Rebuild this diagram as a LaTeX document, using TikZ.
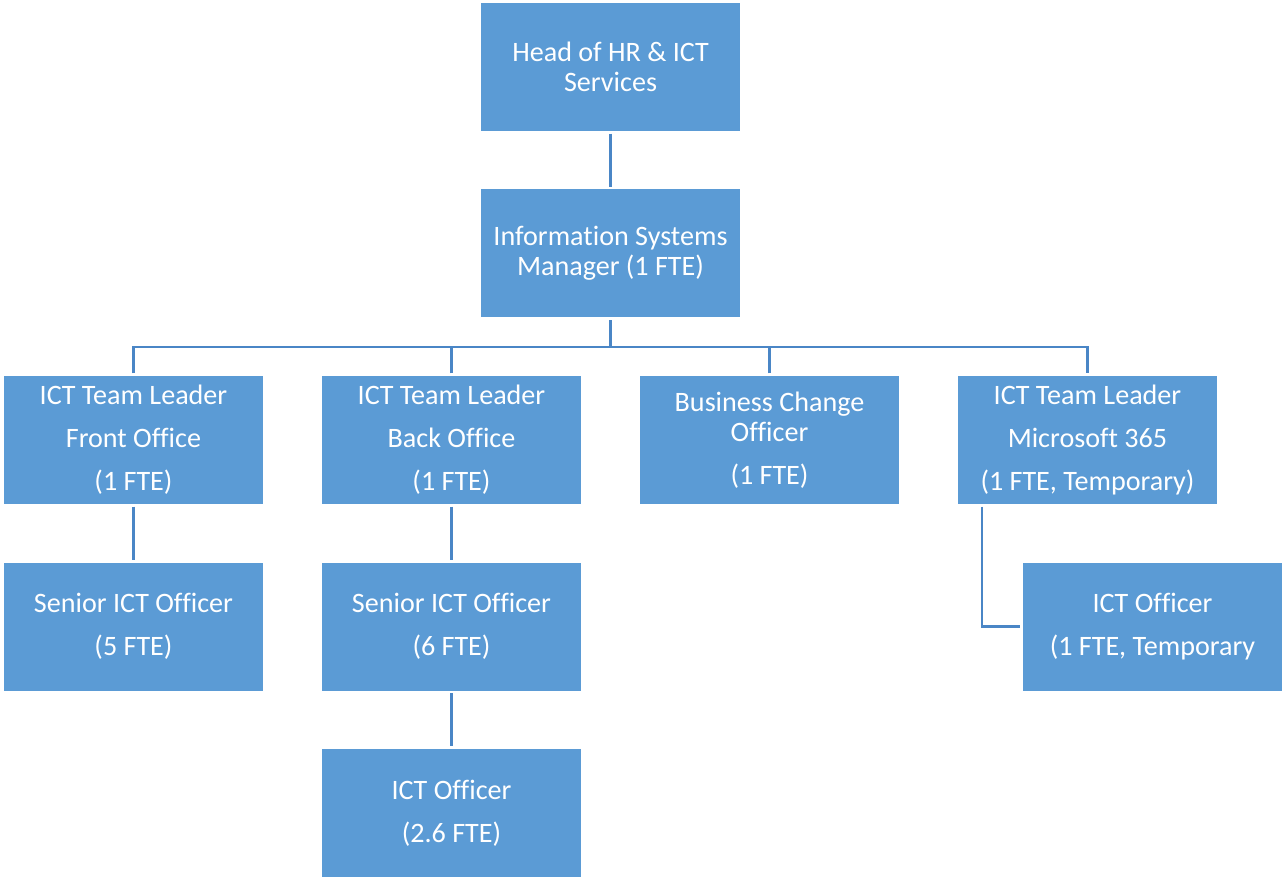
\documentclass[tikz,border=0pt]{standalone}
\usepackage{fontspec}
\setmainfont{Carlito}[Ligatures=NoCommon]
\usepackage{tikz}

\definecolor{boxblue}{HTML}{5B9BD5}
\definecolor{lineblue}{RGB}{74,134,198}

\tikzset{
  post/.style={fill=boxblue, text=white, minimum width=5.18cm, minimum height=2.56cm,
    inner sep=0pt, outer sep=1.5pt, align=center, font=\fontsize{16}{17}\selectfont},
  link/.style={draw=lineblue, line width=1.4pt}
}

\begin{document}
\begin{tikzpicture}
            \useasboundingbox (0,0) rectangle (25.66,-17.56);
            % top of the chart
            \node[post] (head) at (12.21,-1.34) {Head of HR \& ICT\\Services};
            \node[post] (ism) at (12.21,-5.07) {Information Systems\\Manager (1 FTE)};
            \draw[link] (head) -- (ism);
            % team leaders
            \node[post] (front) at (2.67,-8.80) {ICT Team Leader\\[7.4pt]Front Office\\[7.4pt](1 FTE)};
            \node[post] (back) at (9.03,-8.80) {ICT Team Leader\\[7.4pt]Back Office\\[7.4pt](1 FTE)};
            \node[post] (change) at (15.39,-8.80) {Business Change\\Officer\\[7.4pt](1 FTE)};
            \node[post] (ms) at (21.75,-8.80) {ICT Team Leader\\[7.4pt]Microsoft 365\\[7.4pt](1 FTE, Temporary)};
            \coordinate (bus) at (12.21,-6.94);
            \draw[link] (ism.south) -- (ism.south |- bus);
            \draw[link] (front.north) |- (bus) -| (ms.north);
            \draw[link] (back.north) -- (back.north |- bus);
            \draw[link] (change.north) -- (change.north |- bus);
            % officers
            \node[post] (senfront) at (2.67,-12.53) {Senior ICT Officer\\[7.4pt](5 FTE)};
            \node[post] (senback) at (9.03,-12.53) {Senior ICT Officer\\[7.4pt](6 FTE)};
            \node[post] (officer) at (9.03,-16.26) {ICT Officer\\[7.4pt](2.6 FTE)};
            \node[post] (msofficer) at (23.05,-12.53) {ICT Officer\\[7.4pt](1 FTE, Temporary};
            \draw[link] (front) -- (senfront);
            \draw[link] (back) -- (senback);
            \draw[link] (senback) -- (officer);
            \draw[link] (ms.south -| 19.64,0) |- (msofficer.west);
        \end{tikzpicture}
\end{document}
